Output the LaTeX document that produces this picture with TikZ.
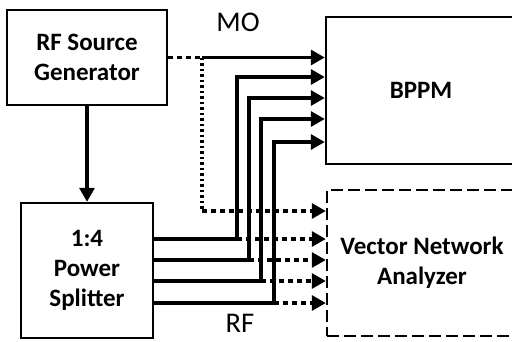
\documentclass[tikz,border=0pt]{standalone}
\usepackage{fontspec}
\setmainfont{Carlito}
\usetikzlibrary{arrows.meta}
\definecolor{lineBlack}{HTML}{000000}

\begin{document}
\begin{tikzpicture}[x=1pt, y=-1pt, font=\bfseries\fontsize{25}{30}\selectfont,
    box/.style={draw=lineBlack, line width=2.4pt, align=center, inner sep=0pt},
    sig/.style={line width=3.2pt, lineBlack},
    tip/.style={-{Triangle[length=14pt, width=15pt]}},
    dashsig/.style={sig, dash pattern=on 5pt off 4pt},
    dotsig/.style={sig, dash pattern=on 2.5pt off 3pt}]
    \useasboundingbox (0,0) rectangle (512,341);
    \clip (0,0) rectangle (512,341);
    \node[box, minimum width=160pt, minimum height=95pt] (src) at (87,57.5) {RF Source\\Generator};
    \node[box, minimum width=132pt, minimum height=135pt] (split) at (87,270.5) {1:4\\Power\\Splitter};
    \node[box, minimum width=190pt, minimum height=147pt] (bppm) at (421,90.5) {BPPM};
    \node[box, dash pattern=on 12pt off 5pt, minimum width=190pt, minimum height=146pt] (vna) at (422,263) {Vector Network\\Analyzer};
    \node[font=\fontsize{28.5}{32}\selectfont] (mo) at (238,22) {MO};
    \node[font=\fontsize{28.5}{32}\selectfont] (rf) at (240,323) {RF};
    % source to splitter
    \draw[sig, tip] (src.south) -- (split.north);
    % MO branch
    \coordinate (j0) at (202,57.5);
    \coordinate (d0) at (202,211);
    \draw[dashsig] (src.east) -- (j0);
    \draw[sig, tip] (j0) -- (bppm.west |- j0);
    \draw[dotsig] (j0) -- (d0);
    \draw[dashsig, tip] (d0) -- (vna.west |- d0);
    % splitter outputs
    \foreach \n/\yo/\xv/\yi in {1/239/237/77, 2/260/249/98, 3/281/261/119, 4/303/274/142} {
      \coordinate (b\n) at (\xv,\yo);
      \draw[sig, tip] (split.east |- b\n) -- (b\n) |- (bppm.west |- 0,\yi);
      \draw[dashsig, tip] (b\n) -- (vna.west |- b\n);
    }
\end{tikzpicture}
\end{document}
